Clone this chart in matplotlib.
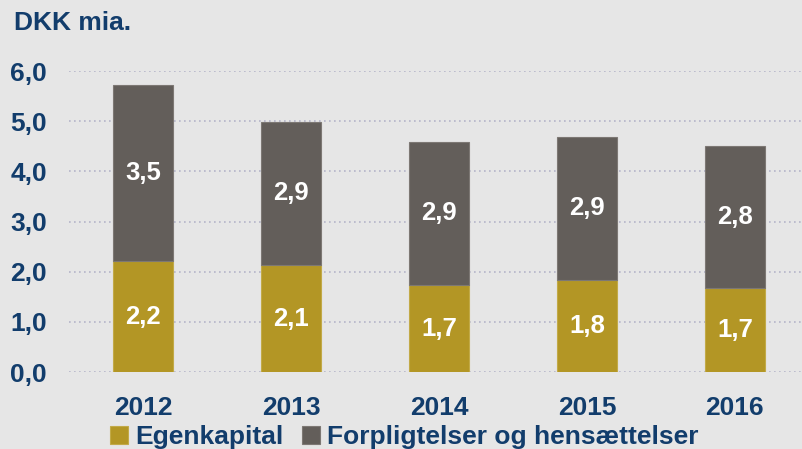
import numpy as np
import matplotlib.pyplot as plt

plt.rcParams['font.family'] = ['Liberation Sans', 'DejaVu Sans']
plt.rcParams['font.weight'] = 'bold'

years = ["2012", "2013", "2014", "2015", "2016"]
egenkapital = [2.21, 2.13, 1.73, 1.83, 1.67]
forpligtelser = [3.51, 2.86, 2.86, 2.86, 2.83]
yticks = [0, 1, 2, 3, 4, 5, 6]

navy = "#123d6c"
gold = "#b39625"
grey = "#635e5a"
bg = "#e6e6e6"

fig = plt.figure(figsize=(8.03, 4.49), dpi=100, facecolor=bg)
ax = fig.add_axes([69/803, 77/449, 1 - 69/803, 301/449], facecolor=bg)

x = np.arange(len(years))
w = 0.405
b1 = ax.bar(x, egenkapital, w, color=gold, edgecolor="#c2aa48", linewidth=0.8,
            label="Egenkapital", zorder=3)
b2 = ax.bar(x, forpligtelser, w, bottom=egenkapital, color=grey, edgecolor="#7d7874",
            linewidth=0.8, label="Forpligtelser og hensættelser", zorder=3)

for i in range(len(years)):
    ax.text(x[i], egenkapital[i] / 2, f"{egenkapital[i]:.1f}".replace(".", ","),
            ha="center", va="center", color="white", fontsize=18.5, fontweight="bold", zorder=4)
    ax.text(x[i], egenkapital[i] + forpligtelser[i] / 2,
            f"{forpligtelser[i]:.1f}".replace(".", ","),
            ha="center", va="center", color="white", fontsize=18.5, fontweight="bold", zorder=4)

ax.set_xlim(-0.5, 4.46)
ax.set_ylim(0, 6)
ax.set_yticks(yticks)
ax.set_yticklabels([f"{v:.1f}".replace(".", ",") for v in yticks])
ax.set_xticks(x)
ax.set_xticklabels(years)
ax.tick_params(axis="y", length=0, pad=16, labelsize=19, labelcolor=navy)
ax.tick_params(axis="x", length=0, pad=17, labelsize=19, labelcolor=navy)
for s in ax.spines.values():
    s.set_visible(False)
ax.yaxis.grid(True, linestyle=(0, (1, 2)), color="#b4b4c8", linewidth=1.2, zorder=0)
ax.set_axisbelow(True)

fig.text(14/803, 1 - 23/449, "DKK mia.", ha="left", va="center", fontsize=19,
         fontweight="bold", color=navy)

leg = fig.legend(handles=[b1, b2], loc="center", bbox_to_anchor=(404/803, 1 - 437/449), ncol=2,
                 frameon=False, fontsize=19, handlelength=0.7, handleheight=0.7,
                 handletextpad=0.25, columnspacing=0.7, borderaxespad=0)
for t in leg.get_texts():
    t.set_color(navy)
    t.set_fontweight("bold")

fig.savefig("out.png", dpi=100, facecolor=bg)
